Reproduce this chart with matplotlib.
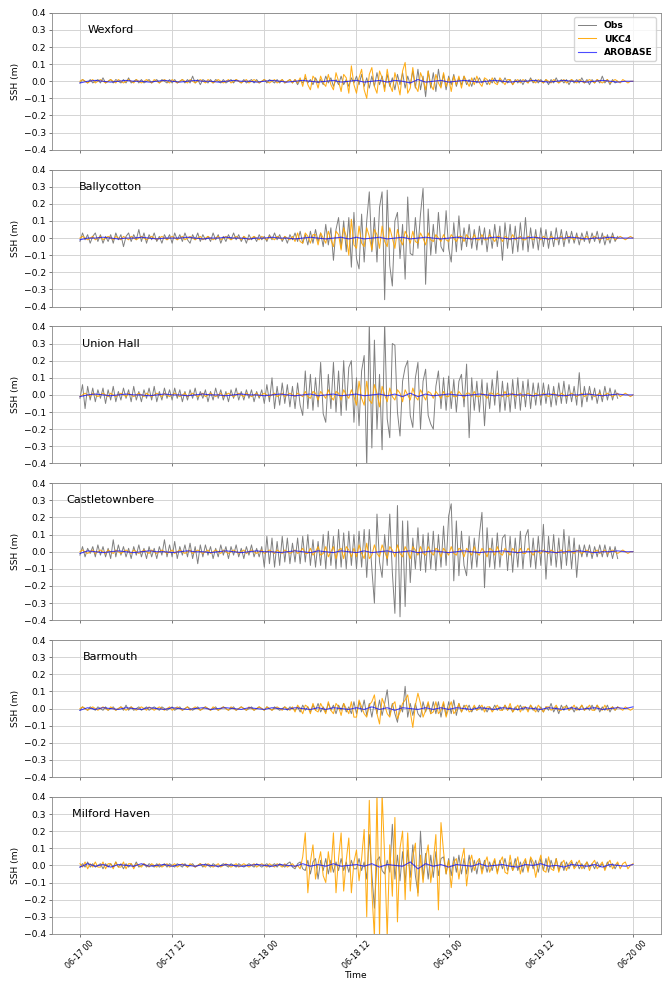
import matplotlib
matplotlib.use("Agg")
import matplotlib.pyplot as plt
import matplotlib.dates as mdates
import numpy as np
import pandas as pd

START = "2023-06-17 00:00"

stations = ["Wexford", "Ballycotton", "Union Hall", "Castletownbere", "Barmouth", "Milford Haven"]

# sea surface height anomalies in cm; Obs and UKC4 every 20 min, AROBASE hourly
obs_wexford = [
    -1,1,0,-1,1,-1, 0,1,-1,2,-1,0, 1,-1,1,0,-1,1, -1,2,-1,0,1,-1, 1,-1,0,1,-1,0, 1,-1,1,0,-1,1,
    -1,1,-1,0,1,-1, 1,-1,3,-1,1,-2, 1,0,-1,1,-1,1, 0,-1,1,-1,0,1, -1,1,0,-1,1,-1, 0,1,-1,1,-1,0,
    1,-1,1,0,-1,1, -1,1,-1,0,1,-1, 1,-2,1,-1,2,-1, 1,-2,2,-1,1,-2, 3,-1,2,-3,1,-2, 3,-2,1,-3,2,-1,
    3,-2,4,-3,2,-4, 3,-3,5,-2,3,-4, 4,-3,2,-5,4,-2, 5,-4,3,-2,6,-4, 7,-5,3,-9,6,-4, 5,-6,7,-3,4,-5,
    3,-2,4,-3,2,-2, 3,-2,1,-3,2,-1, 2,-1,1,-2,1,-1, 2,-1,1,-1,2,-1, 1,-2,1,-1,1,-2, 1,-1,2,-1,1,-1,
    1,-1,1,-2,1,-1, 2,-1,1,-1,1,-2, 1,-1,1,-1,2,-1, 1,-2,1,-1,1,-1, 3,-1,1,-2,1,-1, 0,
]
ukc4_wexford = [
    0,1,0,-1,0,1, -1,0,1,0,-1,0, 1,0,-1,1,0,-1, 0,1,0,-1,1,0, -1,0,1,0,-1,1, 0,-1,0,1,0,-1,
    1,0,-1,0,1,0, -1,1,0,-1,0,1, 0,-1,1,0,-1,0, 1,0,-1,0,1,-1, 0,1,0,-1,0,1, -1,0,1,0,-1,0,
    1,0,-1,0,1,-1, 0,1,-1,0,1,-1, 1,-1,2,-3,4,-2, -5,3,1,-4,3,-1, -3,4,-2,-5,5,0, -6,4,2,-7,9,-2,
    -7,2,7,-5,-10,4, 8,-3,-7,6,2,-6, 7,-2,-6,5,-1,-8, 6,11,-7,-4,8,-3, -6,5,1,-5,6,-2, -5,4,-1,-4,5,-3,
    2,-6,3,-2,3,-4, 3,0,-3,2,-2,3, -1,-3,2,1,-2,2, -1,-2,2,0,-2,1, 1,-2,0,1,-1,1, 0,-1,1,0,-1,1,
    0,-1,1,0,-1,1, 0,-1,0,1,-1,0, 1,0,-1,1,0,-1, 0,1,0,-1,1,0, -1,0,1,-1,0,1, 0,-1,1,0,-1,0, 0,
]
aro_wexford = [
    -1,0,0.5,0,-0.5,0,0.5,0,0,-0.5,0,0.5, 0,-0.5,0,0.5,0,0,-0.5,0,0.5,0,0,-0.5,
    0,0.5,0,-0.5,0,0.5,0,-0.5,0,0.5,-0.5,0, 0.5,-0.5,0,0.5,-0.5,0.5,0,-1,1,-0.5,0,0.5,
    -0.5,0,0.5,0,-0.5,0,0.5,0,-0.5,0,0,0.5, 0,-0.5,0,0.5,0,0,-0.5,0,0.5,0,-0.5,0, 0,
]

obs_bally = [
    -2,3,-1,2,-3,1, 3,-2,2,-3,1,-2, 2,-3,3,-1,2,-5, 1,3,-2,2,-1,5, -2,3,-3,2,-1,3, -2,1,-3,2,-1,2,
    -3,3,-1,2,-2,3, -1,-3,2,-1,3,-2, 2,-1,1,-2,3,-1, 2,-3,1,-2,2,-1, 3,-1,2,-2,1,-3, 2,-1,1,-2,2,-1,
    1,-2,2,-1,3,-1, 2,-2,1,-3,2,-1, 3,-2,4,-3,2,-4, 4,-3,5,-2,3,-5, 8,-4,6,-13,5,12, -6,10,-8,12,-17,15,
    -12,-18,14,-14,10,27, -8,12,-14,18,27,-36, 28,-16,-28,10,15,-12, 8,-24,24,-9,-10,12, -6,14,29,-27,17,-10, 8,-9,15,-5,-8,16,
    -6,-14,9,-8,13,-7, 6,-5,8,-6,5,-7, 7,-4,6,-8,5,-6, 8,-5,7,-13,9,-6, 8,-9,7,-8,9,-7, 12,-8,6,-6,5,-7,
    6,-5,5,-6,4,-5, 6,-4,5,-5,4,-3, 4,-3,3,-4,3,-2, 4,-3,3,-2,4,-3, 3,-4,2,-3,3,-2, 1,
]
ukc4_bally = [
    0,1,0,-1,0,1, -1,0,1,-1,0,1, 0,-1,1,0,-1,1, 0,-1,1,0,-1,0, 1,0,-1,0,1,0, -1,0,1,0,-1,0,
    1,0,-1,0,1,-1, 0,1,0,-1,0,1, -1,0,1,0,-1,0, 1,-1,0,1,0,-1, 0,1,0,-1,1,0, -1,0,1,0,-1,1,
    0,-1,1,0,-1,1, 0,-1,1,0,-1,1, -2,3,-2,-3,3,1, -3,2,2,-4,3,0, -3,4,-1,-5,4,2, -7,6,1,-10,11,-4,
    -6,7,-3,-5,6,1, -7,5,2,-6,7,-2, -5,6,0,-6,5,-1, -4,4,1,-3,4,-2, -3,3,0,-4,3,-1, -2,2,0,-2,2,-1,
    -2,2,0,-2,1,1, -2,2,0,-1,2,-1, -1,2,-1,-1,2,0, -2,1,1,-2,1,0, -1,2,-1,0,1,-1, -1,1,0,-1,1,0,
    -1,1,0,-1,1,0, -1,0,1,-1,0,1, 0,-1,1,0,-1,0, 1,-1,0,1,0,-1, 0,1,-1,0,1,-1, 0,1,0,-1,0,1, 0,
]
aro_bally = [
    -1,0,0,0.5,0,-0.5,0,0,0.5,0,-0.5,0, 0,0,0.5,0,-0.5,0,0,0.5,0,0,-0.5,0,
    0,0.5,0,0,-0.5,0,0.5,0,-0.5,0,0.5,-0.5, 0.5,-0.5,0,0.5,-0.5,0,0.5,-0.5,0,0.5,0,-0.5,
    0,0.5,0,-0.5,0,0,0.5,0,-0.5,0,0,0.5, 0,-0.5,0,0,0.5,0,-0.5,0,0,0.5,0,0, 0,
]

obs_union = [
    -2,6,-8,5,-3,4, -4,3,-2,4,-5,3, -3,5,-4,2,-3,4, -2,3,-4,5,-3,2, -4,3,-2,4,-3,5, -4,2,-3,4,-2,3,
    -3,4,-2,3,-4,2, -3,3,-2,4,-3,2, -2,3,-4,2,-3,4, -2,3,-3,2,-4,3, -2,4,-3,2,-3,3, -2,3,-4,2,-2,3,
    -5,6,-4,10,-8,5, -6,7,-5,6,-7,5, -8,7,-6,-12,14,-8, 12,-9,10,-7,19,-11, -16,12,-8,19,-10,14, -12,20,-9,16,20,-16,
    10,-18,14,23,-42,42, -31,32,-20,12,-32,42, -14,-25,30,29,-10,-24, 8,16,20,-12,-19,10, 19,-20,8,15,-12,-17, -20,5,14,-8,10,-9,
    11,-8,9,-10,8,12, -7,18,-25,10,-9,8, -10,9,-18,7,-8,9, -6,14,-10,8,-9,7, -10,9,-8,10,-9,8, -7,9,-8,7,-6,7,
    -6,7,-5,6,-7,5, -6,7,-5,8,-5,6, -4,5,-6,13,-7,5, -4,5,-3,4,-5,3, -4,5,-3,4,-3,3, -2,
]
ukc4_union = [
    -1,0,1,0,-1,1, 0,-1,0,1,0,-1, 1,0,-1,0,1,0, -1,1,0,-1,0,1, 0,-1,1,0,-1,0, 1,0,-1,1,0,-1,
    0,1,0,-1,0,1, -1,0,1,0,-1,0, 1,-1,0,1,0,-1, 0,1,-1,0,1,0, -1,0,1,0,-1,1, 0,-1,0,1,-1,0,
    1,0,-1,0,1,-1, 0,1,-1,0,1,0, -1,1,0,-1,2,-1, -2,2,1,-3,2,0, -2,3,-1,-3,2,1, -3,3,0,-2,3,-1,
    -6,8,-2,-6,8,-3, -5,6,1,-7,5,0, -4,4,-1,-3,3,1, -4,3,0,-3,4,-1, -3,3,0,-3,2,1, -2,2,0,-2,2,-1,
    -1,2,-1,-1,2,0, -2,1,1,-1,2,-1, -1,1,0,-2,1,1, -1,1,0,-1,2,-1, 0,1,-1,0,1,-1, 0,1,0,-1,1,0,
    -1,1,0,-1,0,1, 0,-1,1,0,-1,0, 1,0,-1,0,1,-1, 0,1,0,-1,0,1, -1,0,1,0,-1,0, 1,-1,0,1,0,-1, 0,
]
aro_union = [
    -1,0,0.5,0,-0.5,0,0.5,0,0,-0.5,0,0.5, 0,0,-0.5,0,0.5,0,0,-0.5,0,0.5,0,0,
    -0.5,0,0.5,0,-0.5,0,0.5,-0.5,0,0.5,-0.5,0, 0.5,-0.5,0,0.5,-0.5,0.5,-1,1,-1,0.5,-0.5,0,
    0.5,0,-0.5,0,0.5,0,-0.5,0,0.5,0,0,-0.5, 0,0.5,0,-0.5,0,0,0.5,0,-0.5,0,0.5,0, 0,
]

obs_castle = [
    -2,3,-3,2,-1,3, -3,4,-2,3,-3,2, -4,7,-3,4,-2,3, -3,2,-4,3,-2,4, -3,2,-4,3,-3,2, -4,3,-2,7,-3,4,
    -3,6,-4,3,-2,4, -3,5,-4,3,-7,4, -3,4,-2,3,-4,2, -3,4,-2,3,-4,3, -2,4,-3,2,-4,3, -2,4,-3,2,-3,3,
    -9,9,-7,8,-9,6, -8,9,-6,8,-7,5, -6,8,-7,9,-6,10, -8,7,-9,6,-8,10, -10,12,-8,9,-10,13, -9,11,-10,12,-8,10,
    -10,12,-9,13,-15,13, -10,-30,22,-6,-15,10, -8,22,-12,-36,27,-38, 18,-32,18,-18,8,-10, 14,-11,10,-12,11,-10, 12,-11,10,-9,15,-8,
    21,28,-17,18,-14,12, -8,-14,9,-10,8,-9, 10,23,-21,14,-9,8, -10,11,-9,8,10,-11, 9,-12,8,-9,12,-10, 9,13,-9,8,-10,9,
    -8,16,-16,9,-8,10, -9,8,-10,13,-8,9, -10,8,-15,4,-3,4, -3,4,-4,3,-3,4, -3,4,-3,3,-4,3, -4,
]
ukc4_castle = [
    0,1,0,-1,0,1, -1,0,1,0,-1,1, 0,-1,1,0,-1,0, 1,0,-1,1,0,-1, 0,1,0,-1,1,0, -1,0,1,0,-1,0,
    1,-1,0,1,0,-1, 0,1,-1,0,1,0, -1,0,1,-1,0,1, 0,-1,1,0,-1,0, 1,0,-1,0,1,-1, 0,1,0,-1,0,1,
    -1,0,1,0,-1,1, 0,-1,1,0,-1,0, 1,-1,0,2,-1,-1, 2,-2,0,3,-2,-1, 3,-3,0,3,-4,1, 2,-4,3,1,-3,2,
    -3,4,-1,-4,5,-4, -2,4,-1,-3,4,0, -4,3,1,-3,4,-1, -3,3,0,-4,3,1, -2,3,-1,-2,3,0, -2,2,1,-3,2,0,
    -2,3,-1,-2,2,1, -3,2,0,-2,3,-1, -2,2,0,-3,2,1, -2,3,-1,-2,2,0, -2,2,0,-1,2,-1, -1,2,0,-2,1,0,
    -1,1,0,-1,1,0, -1,0,1,-1,0,1, 0,-1,1,0,-1,0, 1,0,-1,0,1,-1, 0,1,-1,0,1,0, -1,0,1,0,-1,0, 0,
]
aro_castle = [
    -1,0.5,0,-0.5,0,0.5,0,-0.5,0,0.5,0,0, -0.5,0,0.5,0,0,-0.5,0,0.5,0,-0.5,0,0.5,
    0,0,-0.5,0,0.5,0,-0.5,0.5,0,-0.5,0.5,0, -0.5,0.5,-0.5,0,0.5,-0.5,0,0.5,-0.5,0,0.5,0,
    -0.5,0,0.5,0,-0.5,0,0,0.5,0,-0.5,0,0, 0.5,0,-0.5,0,0,0.5,0,-0.5,0,0,0.5,0, 0,
]

obs_barm = [
    -1,1,0,-1,1,0, -1,1,0,-1,1,-1, 0,1,-1,0,1,-1, 2,-1,1,-1,0,1, -1,0,1,-1,0,1, 0,-1,1,0,-1,0,
    1,-1,0,1,-1,0, 1,0,-1,0,1,-1, 0,1,0,-1,0,1, -1,0,1,0,-1,0, 1,-1,0,1,0,-1, 0,1,-1,0,1,0,
    -1,1,0,-1,1,0, -1,0,1,-1,1,0, -1,1,-2,2,-1,1, -2,2,-1,3,-2,1, -2,3,-1,2,-3,2, -1,3,-2,1,-3,4,
    -3,4,-2,5,-4,3, -5,4,-3,5,-4,3, 11,-4,3,-3,-8,2, -2,13,-5,3,-4,3, -3,-5,4,-2,3,-3, 4,-3,4,-5,3,-4,
    4,-3,5,-4,3,-2, 2,-1,2,-2,1,-1, 2,-1,1,-2,1,-1, 2,-1,1,-1,2,-1, 1,-2,1,-1,2,-1, 1,-1,2,-1,1,-2,
    1,-2,1,-1,3,-2, 1,-3,2,-1,2,-1, 1,-2,1,-1,2,-1, 1,-1,2,-1,2,-2, 1,-1,2,-2,1,-1, 1,
]
ukc4_barm = [
    0,1,0,-1,0,1, 0,-1,0,1,0,-1, 1,0,-1,0,1,0, -1,0,1,0,-1,0, 1,0,-1,1,0,-1, 0,1,0,-1,0,1,
    -1,0,1,0,-1,0, 1,-1,0,1,0,-1, 0,1,0,-1,1,0, -1,0,1,0,-1,1, 0,-1,0,1,0,-1, 1,0,-1,0,1,0,
    -1,1,0,-1,0,1, 0,-1,1,0,-1,1, -2,2,0,-3,2,1, -3,3,-1,-2,3,0, -3,4,-1,-3,3,1, -4,3,0,-3,4,-5,
    -5,5,1,-3,-5,2, 4,8,-3,-9,6,2, -3,-5,2,4,-6,-2, 3,5,8,-2,-11,2, 9,3,-5,-1,4,-3, -2,4,-3,-1,4,-5,
    0,4,-3,-1,3,-2, 1,2,-2,-1,2,-1, 0,2,-2,1,1,-2, 0,2,-1,-1,2,-1, 3,-2,0,2,-2,1, 1,-2,2,0,-2,2,
    0,-2,1,1,-1,0, 2,-1,-1,1,1,-1, 0,2,-1,0,2,-1, 0,2,-1,-1,2,0, -1,2,-1,0,1,-1, 1,0,-1,1,0,-1, 0,
]
aro_barm = [
    -1,0.5,-0.5,0.5,0,-0.5,0.5,0,-0.5,0.5,0,-0.5, 0.5,0,-0.5,0,0.5,-0.5,0,0.5,0,-0.5,0.5,0,
    -0.5,0.5,0,-0.5,0.5,0,-0.5,0.5,-0.5,0.5,0,-0.5, 0.5,-0.5,1,-0.5,0.5,-1,0.5,0,-0.5,0.5,-0.5,0.5,
    -0.5,0.5,0,-0.5,0.5,0,-0.5,0.5,0,-0.5,0.5,0, -0.5,0.5,0,-0.5,0.5,-0.5,0,0.5,-0.5,0,0.5,0, 1,
]

obs_milford = [
    -1,1,-1,2,-1,1, -1,0,1,-2,1,-1, 1,-1,2,-1,1,-2, 1,-1,1,-1,2,-1, 0,1,-1,1,0,-1, 1,-1,0,1,-1,1,
    0,-1,1,0,-1,1, -1,0,1,-1,0,1, -1,1,0,-1,1,0, -1,0,1,0,-1,1, 0,-1,1,0,-1,0, 1,0,-1,1,0,-1,
    0,1,-1,0,1,-1, 1,0,-1,1,2,-1, -2,1,2,-2,-3,3, -5,2,4,-8,3,-3, 4,-5,3,-4,2,-3, 4,-3,2,-4,3,-2,
    -2,4,-3,2,-8,18, -5,-25,3,5,-3,-5, 3,-4,24,-8,6,-9, 8,-10,9,-7,12,-6, -16,20,-8,7,-8,6, -7,8,-6,4,5,-5,
    4,-6,5,-4,6,-5, 4,-5,6,-4,3,-5, 4,-3,3,-4,2,-3, 3,-4,3,-2,4,-3, 2,-3,4,-3,2,-4, 3,-3,4,-2,3,-4,
    4,-3,4,-4,3,-2, 4,-3,2,-3,2,-2, 2,-1,2,-2,1,-2, 2,-1,1,-2,2,-1, 1,-2,2,-1,1,-2, 1,
]
ukc4_milford = [
    1,-1,2,-2,1,-1, 2,-1,-1,2,-2,1, 1,-2,2,-1,-1,2, -2,1,1,-2,1,0, -1,1,0,-1,1,0, -1,1,-1,0,1,-1,
    0,1,-1,0,1,0, -1,1,0,-1,0,1, 0,-1,1,0,-1,0, 1,-1,0,1,0,-1, 0,1,-1,0,1,0, -1,0,1,-1,0,1,
    0,-1,1,0,-1,1, 0,-1,1,-1,0,1, -1,0,-2,5,19,-16, 2,12,-8,1,8,-6, -10,8,-4,19,-16,4, 19,-15,3,16,-16,2,
    9,-9,4,21,-30,38, -15,-42,42,-42,42,5, -42,12,-18,28,-33,10, 20,-20,19,-15,5,13, -18,6,-10,4,12,-10, 2,18,-26,25,8,-5,
    3,-13,2,4,-8,3, 10,-12,1,6,-3,2, 4,-5,1,5,-4,0, 4,-5,2,5,-4,-5, 6,-3,0,5,-5,1, 4,-4,5,2,-7,1,
    6,-3,-4,5,-2,-3, 4,-4,1,3,-3,1, 3,-2,0,3,-2,0, 2,-3,1,3,-2,0, 2,-3,1,3,-2,0, 2,-2,1,2,-2,0, 1,
]
aro_milford = [
    -1,1,-0.5,0.5,-1,0.5,0,-0.5,1,-0.5,0,0.5, -0.5,0.5,0,-0.5,0.5,0,-0.5,0.5,0,-0.5,0,0.5,
    0,-0.5,0.5,0,-0.5,1,-0.5,0.5,-0.5,1,-0.5,0, 0.5,-0.5,1,-1,0.5,0,-0.5,2,-2,1,-0.5,0.5,
    -1,0.5,0,-0.5,1,-0.5,0,0.5,-0.5,-1,0.5,0, 1,-0.5,0,-1,0.5,0,-0.5,0.5,-1,0.5,0,-0.5, 0.5,
]

obs_all = [obs_wexford, obs_bally, obs_union, obs_castle, obs_barm, obs_milford]
ukc4_all = [ukc4_wexford, ukc4_bally, ukc4_union, ukc4_castle, ukc4_barm, ukc4_milford]
aro_all = [aro_wexford, aro_bally, aro_union, aro_castle, aro_barm, aro_milford]

FS = 6.6  # the original looks like a 10pt figure shrunk to 2/3

fig, axes = plt.subplots(6, 1, figsize=(6.62, 9.82), dpi=100, sharex=True)
fig.subplots_adjust(left=0.079, right=0.998, top=0.987, bottom=0.049, hspace=0.145)

label_time = pd.Timestamp(START) + pd.Timedelta(hours=4)
yticks = np.round(np.arange(-4, 5) / 10, 1)

for ax, name, o, u, a in zip(axes, stations, obs_all, ukc4_all, aro_all):
    t_o = pd.date_range(START, periods=len(o), freq="20min")
    t_u = pd.date_range(START, periods=len(u), freq="20min")
    t_a = pd.date_range(START, periods=len(a), freq="60min")
    ax.plot(t_o, np.array(o) / 100, color="grey", lw=0.7, label="Obs")
    ax.plot(t_u, np.array(u) / 100, color="orange", lw=0.75, alpha=0.9, label="UKC4")
    ax.plot(t_a, np.array(a) / 100, color="blue", lw=0.8, alpha=0.7, label="AROBASE")
    ax.set_ylim(-0.4, 0.4)
    ax.set_yticks(yticks)
    ax.grid(True, color="#d4d4d4", lw=0.7)
    ax.set_axisbelow(True)
    ax.set_ylabel("SSH (m)", fontsize=FS, labelpad=2.5)
    ax.tick_params(labelsize=FS, length=2.3, width=0.55, pad=2.3, color="#555555")
    for s in ax.spines.values():
        s.set_color("#888888")
        s.set_linewidth(0.6)
    ax.text(label_time, 0.3, name, ha="center", va="center", fontsize=8.1)

axes[0].legend(loc="upper right", prop={"weight": "bold", "size": FS})
axes[-1].xaxis.set_major_locator(mdates.HourLocator(byhour=[0, 12]))
axes[-1].xaxis.set_major_formatter(mdates.DateFormatter("%m-%d %H"))
axes[-1].tick_params(axis="x", labelsize=5.7, pad=1.5)
plt.setp(axes[-1].get_xticklabels(), rotation=45)
axes[-1].set_xlabel("Time", fontsize=FS, labelpad=0.5)

fig.savefig("out.png", dpi=100)
